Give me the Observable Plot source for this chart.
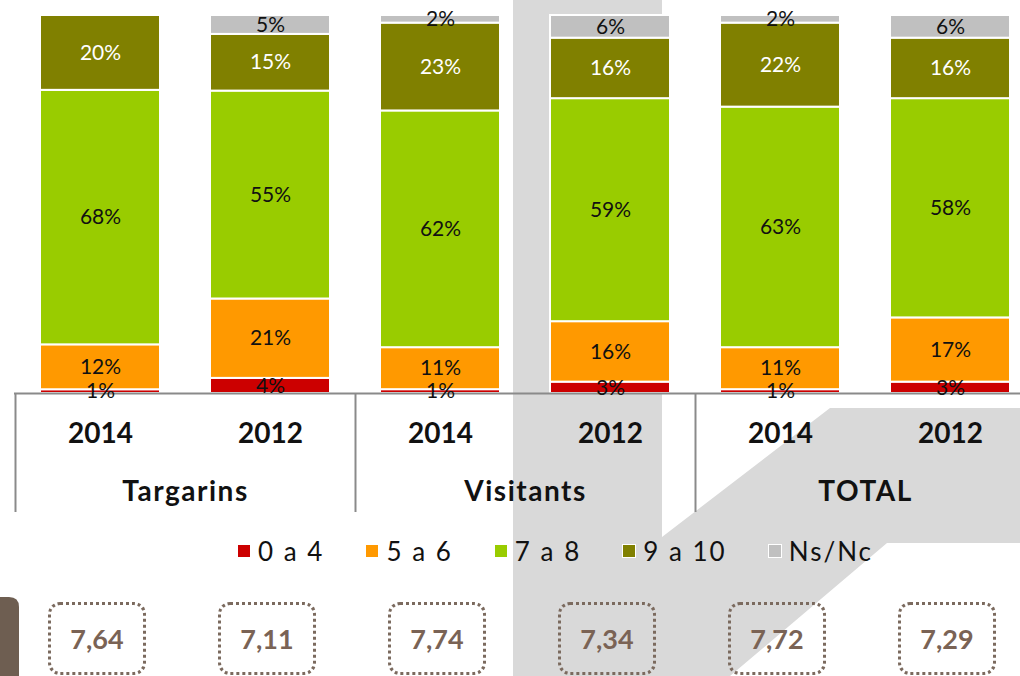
<!DOCTYPE html>
<html>
<head>
<meta charset="utf-8">
<script src="https://cdn.jsdelivr.net/npm/d3@7"></script>
<script src="https://cdn.jsdelivr.net/npm/@observablehq/plot@0.6"></script>
<style>
  html, body { margin: 0; padding: 0; background: white; }
  #wrap { position: relative; width: 1020px; height: 676px; overflow: hidden; font-family: 'Century Gothic', Lato, 'Open Sans', sans-serif; }
  #bg { position: absolute; left: 0; top: 0; }
  #p1, #p2 { position: absolute; left: 0; }
  #p1 { top: 0; } #p2 { top: 393px; }
  #legend { position: absolute; left: 237px; top: 534px; display: flex; align-items: center; height: 34px; }
  .li { display: flex; align-items: center; margin-right: 41px; font-size: 26px; letter-spacing: 2px; color: #111; }
  .sw { width: 14px; height: 14px; box-sizing: border-box; border: 1.5px solid white; margin-right: 7px; }
  .box { position: absolute; top: 602px; width: 98px; height: 73px; box-sizing: border-box; border: 3px dotted #7b6a5e; border-radius: 12px;
         display: flex; align-items: center; justify-content: center; font-weight: bold; font-size: 27px; color: #7a6355; }
</style>
</head>
<body>
<div id="wrap">
  <svg id="bg" width="1020" height="676">
    <rect x="513" y="-10" width="149" height="700" fill="#d9d9d9"/>
    <polygon points="662,537 830,408 1020,408 1020,543 887,543 730,676 662,676" fill="#d9d9d9"/>
    <path d="M0,597 L9,597 Q19,597 19,607 L19,676 L0,676 Z" fill="#6e5e51"/>
  </svg>
  <div id="p1"></div>
  <div id="p2"></div>
  <div id="legend"></div>
</div>
<script>
const groups = ["Targarins", "Targarins", "Visitants", "Visitants", "TOTAL", "TOTAL"];
const years = ["2014", "2012", "2014", "2012", "2014", "2012"];
const categories = ["0 a 4", "5 a 6", "7 a 8", "9 a 10", "Ns/Nc"];
const v0a4  = [1, 4, 1, 3, 1, 3];
const v5a6  = [12, 21, 11, 16, 11, 17];
const v7a8  = [68, 55, 62, 59, 63, 58];
const v9a10 = [20, 15, 23, 16, 22, 16];
const vNsNc = [0, 5, 2, 6, 2, 6];
const scores = ["7,64", "7,11", "7,74", "7,34", "7,72", "7,29"];
const colors = ["#cc0000", "#ff9900", "#99cc00", "#808000", "#c0c0c0"];

const keys = groups.map((g, i) => g + " " + years[i]);
const series = [v0a4, v5a6, v7a8, v9a10, vNsNc];
const rows = [];
keys.forEach((k, i) => categories.forEach((c, j) => rows.push({key: k, cat: c, value: series[j][i]})));

const font = "'Century Gothic', Lato, 'Open Sans', sans-serif";
const xOpts = {domain: keys, range: [15, 1035], paddingInner: 50 / 170, paddingOuter: 25 / 170, axis: null};
const stackOpts = {x: "key", y: "value", z: "cat", order: categories, offset: "normalize"};

const chart = Plot.plot({
  width: 1020, height: 395,
  marginTop: 15, marginBottom: 2, marginLeft: 14, marginRight: 0,
  style: {background: "transparent", overflow: "visible", fontFamily: font},
  x: xOpts,
  y: {domain: [0, 1], axis: null},
  color: {domain: categories, range: colors},
  marks: [
    Plot.barY(rows, Plot.stackY({...stackOpts, fill: "cat", stroke: "white", strokeWidth: 2})),
    Plot.ruleY([0], {stroke: "#8a8a8a", strokeWidth: 2}),
    Plot.text(rows, Plot.stackY({...stackOpts, text: d => d.value > 0 && d.cat !== "9 a 10" ? d.value + "%" : "", fill: "#111", fontSize: 21})),
    Plot.text(rows, Plot.stackY({...stackOpts, text: d => d.value > 0 && d.cat === "9 a 10" ? d.value + "%" : "", fill: "white", fontSize: 21}))
  ]
});
document.getElementById("p1").appendChild(chart);

const groupNames = [...new Set(groups)];
const groupFirst = groupNames.map(g => keys[groups.indexOf(g)]);
const groupSecond = groupNames.map(g => keys[groups.lastIndexOf(g)]);

const axisTable = Plot.plot({
  width: 1020, height: 127,
  marginTop: 0, marginBottom: 8, marginLeft: 14, marginRight: 0,
  style: {background: "transparent", overflow: "visible", fontFamily: font},
  x: xOpts,
  marks: [
    Plot.ruleX(groupFirst, {x: d => d, dx: -85, stroke: "#8a8a8a", strokeWidth: 2}),
    Plot.text(keys, {x: d => d, text: (d, i) => years[i], frameAnchor: "top", lineAnchor: "middle", dy: 41, fontSize: 28, fontWeight: "bold", fill: "#111"}),
    Plot.text(groupSecond, {x: d => d, text: (d, i) => groupNames[i], frameAnchor: "top", lineAnchor: "middle", dx: -85, dy: 99, fontSize: 28, fontWeight: "bold", fill: "#111"})
  ]
});
d3.select(axisTable).selectAll("text")
  .filter(function () { return groupNames.includes(this.textContent); })
  .attr("letter-spacing", 1.5);
document.getElementById("p2").appendChild(axisTable);

const legend = document.getElementById("legend");
categories.forEach((c, i) => {
  const item = document.createElement("div");
  item.className = "li";
  const sw = document.createElement("div");
  sw.className = "sw";
  sw.style.background = colors[i];
  item.appendChild(sw);
  const t = document.createElement("span");
  t.textContent = c;
  item.appendChild(t);
  legend.appendChild(item);
});

const xs = chart.scale("x");
const wrap = document.getElementById("wrap");
keys.forEach((k, i) => {
  const b = document.createElement("div");
  b.className = "box";
  const cx = xs.apply(k) + xs.bandwidth / 2 - 3;
  b.style.left = (cx - 49) + "px";
  b.textContent = scores[i];
  wrap.appendChild(b);
});
</script>
</body>
</html>
